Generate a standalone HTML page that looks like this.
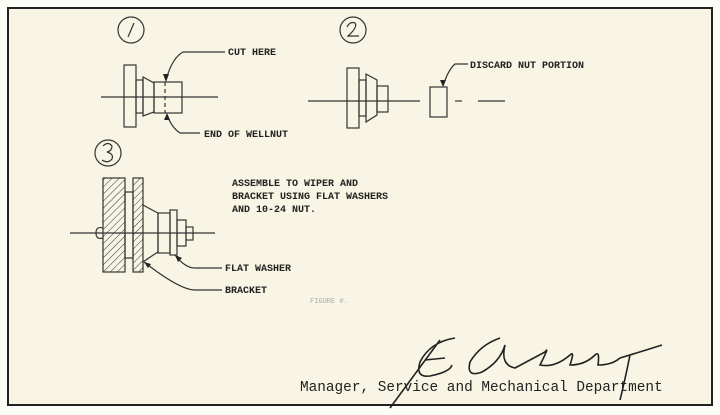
<!DOCTYPE html>
<html><head><meta charset="utf-8"><style>
html,body{margin:0;padding:0;background:#fdfdf8;}
svg{display:block}
text{font-family:"Liberation Mono",monospace;fill:#222;}
</style></head><body>
<svg width="720" height="415" viewBox="0 0 720 415" xmlns="http://www.w3.org/2000/svg">
<defs>
<pattern id="h" width="5" height="5" patternUnits="userSpaceOnUse" patternTransform="rotate(45)">
<line x1="0" y1="0" x2="0" y2="5" stroke="#333" stroke-width="1"/></pattern>
</defs>
<rect x="0" y="0" width="720" height="415" fill="#fdfdf8"/>
<rect x="8" y="8" width="704" height="397" fill="#f8f5e4" stroke="#222" stroke-width="2"/>
<g fill="none" stroke="#333" stroke-width="1.2">
<circle cx="131" cy="30" r="13"/>
<line x1="134" y1="23" x2="128" y2="37"/>
<line x1="101" y1="97" x2="218" y2="97"/>
<rect x="124" y="65" width="12" height="62"/>
<rect x="136" y="80" width="7" height="33"/>
<polygon points="143,77 154,83 154,112 143,116"/>
<rect x="154" y="82" width="28" height="31"/>
<line x1="165" y1="82" x2="165" y2="113" stroke-dasharray="4,3"/>
<path d="M166,80 Q172,58 183,52 L225,52"/>
<path d="M167,115 Q172,128 180,133 L200,133"/>
<circle cx="353" cy="30" r="13"/>
<path d="M347,27 Q350,21 355,23 Q358,27 348,36 L359,36"/>
<line x1="308" y1="101" x2="420" y2="101"/>
<line x1="455" y1="101" x2="462" y2="101"/><line x1="478" y1="101" x2="505" y2="101"/>
<rect x="347" y="68" width="12" height="60"/>
<rect x="359" y="80" width="7" height="36"/>
<polygon points="366,74 377,80 377,115 366,122"/>
<rect x="377" y="86" width="11" height="26"/>
<rect x="430" y="87" width="17" height="30"/>
<path d="M443,86 Q448,70 455,64 L468,64"/>
<circle cx="108" cy="153" r="13"/>
<path d="M103,146 Q108,141 112,146 Q112,151 107,152 Q114,154 112,159 Q108,164 102,160"/>
<rect x="103" y="178" width="22" height="94" fill="url(#h)"/>
<rect x="133" y="178" width="10" height="94" fill="url(#h)"/>
<rect x="125" y="192" width="8" height="66"/>
<path d="M103,228 Q96,226 96,233 Q96,240 103,238"/>
<line x1="70" y1="233" x2="215" y2="233"/>
<path d="M143,205 Q152,210 158,213 L158,252 Q150,257 143,262"/>
<rect x="158" y="213" width="12" height="40"/>
<rect x="170" y="210" width="7" height="45"/>
<rect x="177" y="220" width="9" height="26"/>
<rect x="186" y="227" width="7" height="13"/>
<path d="M175,255 Q185,268 195,268 L222,268"/>
<path d="M144,262 Q180,290 195,290 L222,290"/>
<g stroke="#222" stroke-width="1.6">
<path d="M455,338 Q430,342 420,362 Q415,378 430,376 Q450,372 452,365"/>
<path d="M425,360 L445,358"/>
<path d="M390,408 L440,340"/>
<path d="M500,338 Q480,345 470,362 Q466,378 482,372 Q500,362 505,345 Q500,365 515,368 Q530,360 545,352 Q550,345 540,365 Q555,368 570,355 Q575,350 570,365 Q585,365 595,355 Q600,350 598,365 Q612,365 620,358 Q640,352 662,345"/>
<path d="M630,355 Q625,380 620,400"/>
</g>
</g>
<polygon points="166,82 163,74 169,74" fill="#222"/>
<polygon points="167,113 164,120 170,120" fill="#222"/>
<polygon points="443,87 440,80 446,80" fill="#222"/>
<polygon points="175,255 178,262 182,258" fill="#222"/>
<polygon points="144,262 148,268 151,264" fill="#222"/>
<g font-size="10" font-weight="bold">
<text x="228" y="55">CUT HERE</text>
<text x="204" y="137">END OF WELLNUT</text>
<text x="470" y="68">DISCARD NUT PORTION</text>
<text x="232" y="186">ASSEMBLE TO WIPER AND</text>
<text x="232" y="199">BRACKET USING FLAT WASHERS</text>
<text x="232" y="212">AND 10-24 NUT.</text>
<text x="225" y="271">FLAT WASHER</text>
<text x="225" y="293">BRACKET</text>
</g>
<text x="310" y="303" font-size="7" style="fill:#aaa">FIGURE #.</text>
<text x="300" y="391" font-size="14.4">Manager, Service and Mechanical Department</text>
</svg>
</body></html>
